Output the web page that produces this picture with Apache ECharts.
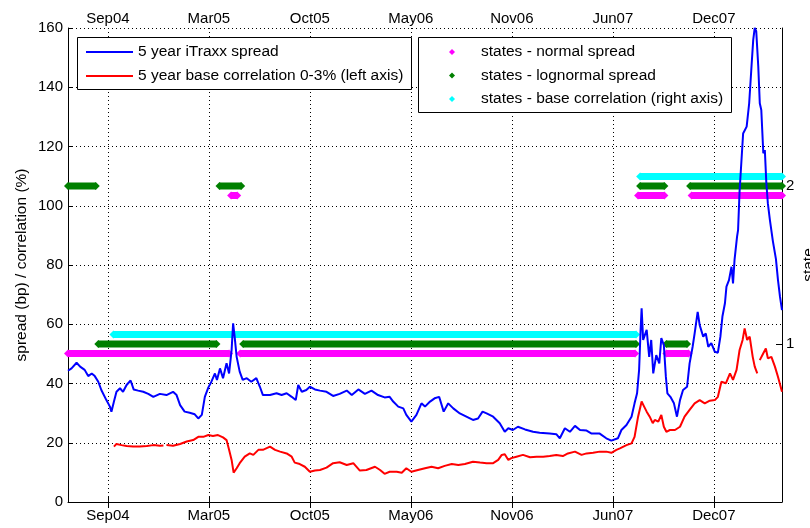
<!DOCTYPE html>
<html>
<head>
<meta charset="utf-8">
<script src="https://cdn.jsdelivr.net/npm/echarts@6/dist/echarts.min.js"></script>
<style>
  html, body { margin: 0; padding: 0; background: #fff; }
  #chart { width: 810px; height: 528px; }
</style>
</head>
<body>
<div id="chart"></div>
<script>
// x values are MATLAB serial day numbers (datenum), as in the original plot
const xTicks = [732200, 732400, 732600, 732800, 733000, 733200, 733400];
const xMin = 732121, xMax = 733535;
const yTicksRight = [1, 2];

// 5 year iTraxx spread (bp)
const spreadDays = [732121,732128,732138,732145,732154,732161,732168,732174,732181,732187,732197,732204,732207,732212,732217,732224,732230,732237,732245,732251,732260,732270,732280,732290,732303,732316,732329,732336,732343,732352,732362,732372,732379,732386,732392,732399,732405,732412,732416,732422,732428,732435,732440,732445,732448,732451,732455,732461,732467,732475,732484,732494,732501,732507,732521,732534,732544,732554,732564,732572,732577,732584,732593,732600,732610,732620,732633,732646,732659,732673,732683,732696,732709,732722,732735,732748,732758,732765,732775,732785,732791,732801,732811,732821,732828,732838,732847,732856,732865,732874,732884,732897,732910,732923,732933,732942,732950,732963,732976,732986,732993,733002,733012,733026,733042,733055,733075,733088,733095,733105,733115,733125,733135,733148,733158,733174,733187,733197,733210,733217,733227,733237,733243,733248,733252,733255,733257,733260,733267,733272,733276,733280,733286,733292,733296,733301,733305,733308,733314,733321,733327,733333,733339,733347,733352,733358,733362,733368,733372,733379,733384,733389,733395,733402,733408,733413,733417,733422,733425,733430,733435,733438,733441,733446,733448,733451,733458,733465,733470,733475,733478,733481,733484,733488,733491,733494,733498,733501,733504,733507,733511,733517,733523,733527,733531,733535];
const spreadValues = [44.3,45.1,47.0,45.7,44.6,42.5,43.4,42.5,40.6,37.8,34.4,32.2,30.5,33.9,37.2,38.4,37.2,39.5,41.0,38.0,37.6,37.2,36.5,35.5,36.5,36.1,37.2,36.1,32.7,30.5,30.1,29.6,28.2,29.4,35.5,38.7,40.6,43.4,41.2,45.1,41.8,46.8,43.4,51.3,60.3,55.8,49.0,44.0,41.2,41.8,40.6,41.8,38.9,36.1,36.1,36.7,36.1,36.7,35.5,34.4,39.5,37.2,37.8,38.9,38.0,37.6,37.2,35.8,36.5,37.6,36.1,38.0,36.5,37.6,36.1,35.3,35.5,33.9,32.2,31.6,29.4,27.1,29.4,33.3,32.2,33.9,35.0,35.5,30.5,33.3,31.6,29.9,28.8,27.7,28.2,30.5,29.9,28.8,26.6,23.7,24.9,24.3,25.4,24.5,23.7,23.4,23.1,22.9,21.5,24.9,23.7,25.7,24.3,24.1,23.1,23.1,21.5,20.7,21.5,24.3,26.0,28.8,33.3,36.7,44.6,58.1,65.4,54.7,58.1,49.0,54.7,43.4,49.6,46.8,55.3,53.0,42.3,36.7,35.5,33.3,28.8,34.4,37.8,38.9,46.8,52.4,56.9,64.2,59.7,55.8,56.9,52.4,53.6,50.7,50.4,55.8,62.6,67.1,72.7,74.9,79.4,73.8,81.7,89.6,91.8,105.0,124.4,126.7,134.6,148.1,156.0,160.0,158.9,147.0,134.6,132.3,117.7,118.8,107.6,100.8,95.2,88.0,82.0,75.0,69.3,64.8];

// 5 year base correlation 0-3% (%), null = gap in the data
const corrDays = [732212,732217,732227,732237,732250,732263,732277,732290,732303,732310,732313,732316,732329,732343,732356,732369,732379,732389,732399,732408,732418,732428,732435,732440,732445,732449,732455,732461,732471,732481,732488,732498,732507,732521,732531,732541,732554,732564,732570,732580,732590,732600,732610,732620,732633,732646,732659,732673,732686,732699,732712,732729,732739,732748,732758,732772,732782,732791,732801,732814,732828,732841,732854,732867,732881,732894,732907,732923,732937,732950,732963,732973,732980,732986,732993,732999,733009,733022,733036,733049,733062,733075,733088,733101,733111,733125,733138,733148,733161,733174,733187,733197,733207,733214,733227,733237,733243,733250,733257,733262,733267,733273,733279,733283,733290,733296,733301,733306,733313,733323,733333,733342,733352,733362,733372,733382,733392,733402,733408,733415,733424,733432,733438,733445,733451,733457,733461,733466,733471,733477,733481,733486,733488,733491,733498,733503,733507,733514,733521,733527,733535];
const corrValues = [18.7,19.6,19.2,18.9,18.7,18.7,18.9,19.2,19.0,19.1,null,19.2,19.0,19.6,20.4,20.9,22.0,22.0,22.6,22.3,22.6,21.8,20.9,17.6,14.2,9.9,11.4,13.1,15.3,16.4,15.9,17.6,17.6,18.7,17.6,17.0,16.4,15.3,13.3,12.8,11.9,10.2,10.6,10.8,11.6,13.1,13.4,12.5,13.1,10.6,10.8,11.9,10.8,9.5,10.2,10.2,9.9,11.4,10.2,10.8,11.4,11.9,11.4,12.2,12.8,12.5,12.8,13.6,13.3,13.1,13.1,14.2,15.9,16.1,14.2,14.8,15.3,15.9,15.1,15.3,15.3,15.5,15.9,15.5,16.4,17.0,15.9,16.4,16.6,17.0,17.0,16.6,17.6,18.1,19.2,19.8,22.0,28.8,33.9,32.2,30.5,28.8,26.6,27.7,27.1,29.4,25.4,23.7,24.3,24.3,25.4,28.8,31.1,33.3,34.4,33.3,34.2,34.4,35.5,40.6,40.1,43.4,41.2,44.6,51.3,54.7,58.6,54.7,55.8,49.0,45.7,43.4,null,47.9,50.2,51.8,48.5,49.0,45.7,42.3,37.2];

// state runs: [first day, last day, state]
const statesNormal = [[732121,732440,1],[732444,732456,2],[732462,733244,1],[733250,733302,2],[733306,733350,1],[733356,733535,2]];
const statesLognormal = [[732121,732176,2],[732181,732415,1],[732421,732464,2],[732468,733246,1],[733254,733302,2],[733306,733347,1],[733353,733535,2]];
const statesCorr = [[732211,733246,1],[733254,733535,2]];

const MONTHS = ['Jan','Feb','Mar','Apr','May','Jun','Jul','Aug','Sep','Oct','Nov','Dec'];
function dateLabel(dn) {
    const d = new Date((dn - 719529) * 86400000);
    return MONTHS[d.getUTCMonth()] + String(d.getUTCFullYear()).slice(2);
}
function zip(xs, ys) {
    return xs.map(function (x, i) { return [x, ys[i]]; });
}
// each run becomes a flat segment, broken from the next one
function runsToData(runs, shift) {
    let out = [];
    runs.forEach(function (r) {
        out.push([r[0], r[2] + shift], [r[1], r[2] + shift], [r[1], null]);
    });
    return out;
}
function stateSeries(name, color, runs, shift) {
    return {
        name: name,
        type: 'line',
        yAxisIndex: 1,
        data: runsToData(runs, shift),
        color: color,
        symbol: 'diamond',
        symbolSize: 8,
        showAllSymbol: true,
        lineStyle: {width: 7, cap: 'butt'},
        z: 2
    };
}

const FONT = 'Liberation Sans';
const dotted = {color: '#000', type: [1, 3], width: 1};
const diamond = 'path://M0,-1L1,0L0,1L-1,0Z';
const lineIcon = 'path://M0,0H47V2H0Z';
const tickFont = {color: '#000', fontSize: 15, fontFamily: FONT};

let myChart = echarts.init(document.getElementById('chart'));
myChart.setOption({
    animation: false,
    backgroundColor: '#fff',
    grid: {left: 68, right: 28, top: 28, bottom: 26, containLabel: false, outerBoundsMode: 'none'},
    xAxis: [
        {
            type: 'value', min: xMin, max: xMax, position: 'bottom',
            axisLine: {show: true, onZero: false, lineStyle: {color: '#000', width: 1}},
            axisTick: {show: true, inside: true, length: 6, customValues: xTicks, lineStyle: {color: '#000'}},
            axisLabel: Object.assign({customValues: xTicks, formatter: dateLabel, margin: 6}, tickFont),
            splitLine: {show: true, lineStyle: dotted}
        },
        {
            type: 'value', min: xMin, max: xMax, position: 'top',
            axisLine: {show: false},
            axisTick: {show: true, inside: true, length: 6, customValues: xTicks, lineStyle: {color: '#000'}},
            axisLabel: Object.assign({customValues: xTicks, formatter: dateLabel, margin: 2}, tickFont),
            splitLine: {show: false}
        }
    ],
    yAxis: [
        {
            type: 'value', min: 0, max: 160, interval: 20, position: 'left',
            name: 'spread (bp) / correlation (%)', nameLocation: 'middle', nameRotate: 90,
            nameGap: 38, nameMoveOverlap: false,
            nameTextStyle: {color: '#000', fontSize: 15.5, fontFamily: FONT},
            axisLine: {show: true, lineStyle: {color: '#000', width: 1}},
            axisTick: {show: true, inside: true, length: 5, lineStyle: {color: '#000'}},
            axisLabel: Object.assign({margin: 5}, tickFont),
            splitLine: {show: true, lineStyle: dotted}
        },
        {
            type: 'value', min: 0, max: 3, position: 'right',
            name: 'state', nameLocation: 'middle', nameRotate: 90,
            nameGap: 19, nameMoveOverlap: false,
            nameTextStyle: {color: '#000', fontSize: 15.5, fontFamily: FONT},
            axisLine: {show: true, lineStyle: {color: '#000', width: 1}},
            axisTick: {show: true, inside: true, length: 6, customValues: yTicksRight, lineStyle: {color: '#000'}},
            axisLabel: Object.assign({customValues: yTicksRight, margin: 4}, tickFont),
            splitLine: {show: false}
        }
    ],
    legend: [
        {
            left: 86, top: 44, orient: 'vertical', padding: 0, itemGap: 8,
            itemWidth: 47, itemHeight: 14, selectedMode: false, z: 60,
            textStyle: {color: '#000', fontSize: 15.5, fontFamily: FONT, lineHeight: 16},
            data: [
                {name: '5 year iTraxx spread', icon: lineIcon},
                {name: '5 year base correlation 0-3% (left axis)', icon: lineIcon}
            ]
        },
        {
            // the diamond icon is centred in a 48px slot; the box is laid out from the diamond
            left: 449, top: 44, orient: 'vertical', padding: 0, itemGap: 7.5,
            itemWidth: 48, itemHeight: 6, selectedMode: false, z: 60,
            textStyle: {color: '#000', fontSize: 15.5, fontFamily: FONT, lineHeight: 16},
            data: [
                {name: 'states - normal spread', icon: diamond},
                {name: 'states - lognormal spread', icon: diamond},
                {name: 'states - base correlation (right axis)', icon: diamond}
            ]
        }
    ],
    graphic: [
        {type: 'rect', z: 50, shape: {x: 77.5, y: 37.5, width: 334, height: 52},
            style: {fill: '#fff', stroke: '#000', lineWidth: 1}},
        {type: 'rect', z: 50, shape: {x: 418.5, y: 37.5, width: 313, height: 75},
            style: {fill: '#fff', stroke: '#000', lineWidth: 1}}
    ],
    series: [
        stateSeries('states - normal spread', '#ff00ff', statesNormal, -0.06),
        stateSeries('states - lognormal spread', '#008000', statesLognormal, 0),
        stateSeries('states - base correlation (right axis)', '#00ffff', statesCorr, 0.06),
        {
            name: '5 year base correlation 0-3% (left axis)',
            type: 'line',
            data: zip(corrDays, corrValues),
            color: '#ff0000',
            showSymbol: false,
            lineStyle: {width: 2},
            z: 3
        },
        {
            name: '5 year iTraxx spread',
            type: 'line',
            data: zip(spreadDays, spreadValues),
            color: '#0000ff',
            showSymbol: false,
            lineStyle: {width: 2},
            z: 4
        }
    ]
});
</script>
</body>
</html>
